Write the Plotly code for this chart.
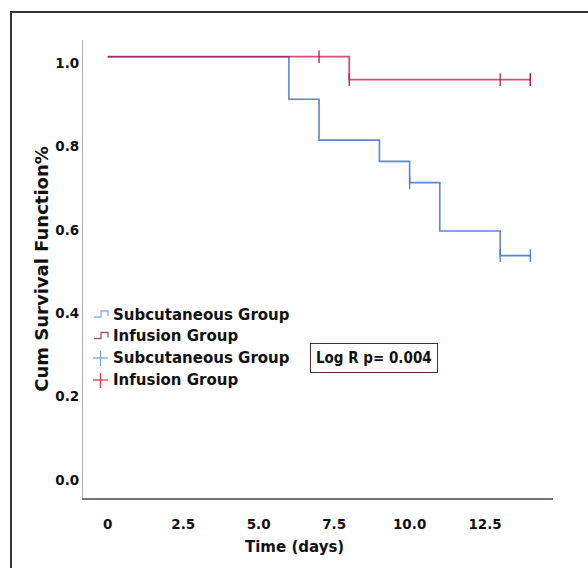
import plotly.graph_objects as go

# ---- data ----
subq_time = [0, 6, 7, 9, 10, 11, 13, 14]
subq_surv = [1.015, 0.913, 0.815, 0.764, 0.713, 0.597, 0.538, 0.538]
subq_cens_time = [10, 13, 14]
subq_cens_surv = [0.713, 0.538, 0.538]

inf_time = [0, 8, 14]
inf_surv = [1.015, 0.96, 0.96]
inf_cens_time = [7, 8, 13, 14, 14]
inf_cens_surv = [1.015, 0.96, 0.96, 0.96, 0.96]

x_ticks = [0, 2.5, 5.0, 7.5, 10.0, 12.5]
x_tick_text = ["0", "2.5", "5.0", "7.5", "10.0", "12.5"]
y_ticks = [0.0, 0.2, 0.4, 0.6, 0.8, 1.0]
y_tick_text = ["0.0", "0.2", "0.4", "0.6", "0.8", "1.0"]

legend_labels = ["Subcutaneous Group", "Infusion Group", "Subcutaneous Group", "Infusion Group"]
p_text = "Log R p= 0.004"
x_title = "Time (days)"
y_title = "Cum Survival Function%"

BLUE = "#4a7bcf"
RED = "#b8003a"

W, H = 588, 568
ML, MR, MT, MB = 83, 35, 40, 70
PW, PH = W - ML - MR, H - MT - MB


def px(x):
    return (x - ML) / PW


def py(y):
    return (H - MB - y) / PH


fig = go.Figure()
fig.add_trace(go.Scatter(x=subq_time, y=subq_surv, mode="lines", line_shape="hv",
                         line=dict(color=BLUE, width=1.6), opacity=0.9, showlegend=False,
                         name=legend_labels[0]))
fig.add_trace(go.Scatter(x=inf_time, y=inf_surv, mode="lines", line_shape="hv",
                         line=dict(color=RED, width=1.8), opacity=0.68, showlegend=False,
                         name=legend_labels[1]))
fig.add_trace(go.Scatter(x=subq_cens_time, y=subq_cens_surv, mode="markers",
                         marker=dict(symbol="line-ns", size=9, line=dict(color=BLUE, width=1.3)),
                         showlegend=False, name=legend_labels[2]))
fig.add_trace(go.Scatter(x=inf_cens_time, y=inf_cens_surv, mode="markers",
                         marker=dict(symbol="line-ns", size=9, line=dict(color="#c01848", width=1.3)),
                         showlegend=False, name=legend_labels[3]))

shapes = []
# outer frame (top and left edges, like the cropped reference)
shapes.append(dict(type="path", xref="paper", yref="paper",
                   path=f"M {px(11)},{py(H + 5)} L {px(11)},{py(12)} L {px(W + 5)},{py(12)}",
                   line=dict(color="#333333", width=2)))

annotations = []
rows = [315, 336.5, 358, 380]
legend_cols = ["#8fb0dc", "#a0586a", "#6ea0e0", "#e0303a"]
for i, (lab, yy) in enumerate(zip(legend_labels, rows)):
    annotations.append(dict(x=px(111), y=py(yy), xref="paper", yref="paper", text=lab,
                            showarrow=False, xanchor="left", yanchor="middle",
                            font=dict(family="DejaVu Sans", size=15, color="#111111", weight="bold")))
    c = legend_cols[i]
    if i < 2:
        shapes.append(dict(type="path", xref="paper", yref="paper",
                           path=(f"M {px(94)},{py(yy + 2)} L {px(101)},{py(yy + 2)} L {px(101)},{py(yy - 4)} "
                                 f"L {px(108)},{py(yy - 4)} L {px(108)},{py(yy + 1)}"),
                           line=dict(color=c, width=1.3)))
    else:
        shapes.append(dict(type="line", xref="paper", yref="paper",
                           x0=px(93), x1=px(108), y0=py(yy), y1=py(yy), line=dict(color=c, width=1.2)))
        shapes.append(dict(type="line", xref="paper", yref="paper",
                           x0=px(100.5), x1=px(100.5), y0=py(yy - 7), y1=py(yy + 8), line=dict(color=c, width=1.2)))

annotations.append(dict(x=px(373.5), y=py(358.5), xref="paper", yref="paper", text=p_text,
                        showarrow=False, xanchor="center", yanchor="middle",
                        font=dict(family="DejaVu Sans Condensed, Liberation Sans", size=15,
                                  color="#111111", weight="bold"),
                        bordercolor="#5a2a2a", borderwidth=1, borderpad=5, bgcolor="white"))

# x-axis title (sits left of the plot centre in the reference)
annotations.append(dict(x=px(294), y=py(547), xref="paper", yref="paper", text=x_title,
                        showarrow=False, xanchor="center", yanchor="middle",
                        font=dict(family="DejaVu Sans", size=15, color="#111111", weight="bold")))

fig.update_layout(
    width=W, height=H,
    margin=dict(l=ML, r=MR, t=MT, b=MB),
    paper_bgcolor="white", plot_bgcolor="white",
    shapes=shapes, annotations=annotations,
    xaxis=dict(range=[-0.82, 14.75], tickvals=x_ticks, ticktext=x_tick_text,
               showgrid=False, zeroline=False, showline=True, linecolor="#7a7470", linewidth=1.5,
               ticks="outside", ticklen=13, tickcolor="rgba(0,0,0,0)",
               tickfont=dict(family="DejaVu Sans", size=13.5, color="#111111", weight="bold"),
               automargin=False),
    yaxis=dict(range=[-0.043, 1.055], tickvals=y_ticks, ticktext=y_tick_text,
               showgrid=False, zeroline=False, showline=True, linecolor="#b0b0b0", linewidth=1.2,
               ticks="", tickfont=dict(family="DejaVu Sans", size=13.5, color="#111111", weight="bold"),
               title=dict(text=y_title, standoff=1,
                          font=dict(family="DejaVu Sans", size=18, color="#111111", weight="bold")),
               automargin=False),
)

fig.write_html("out.html", config={"displayModeBar": False},
               post_script="document.body.style.margin='0';")
